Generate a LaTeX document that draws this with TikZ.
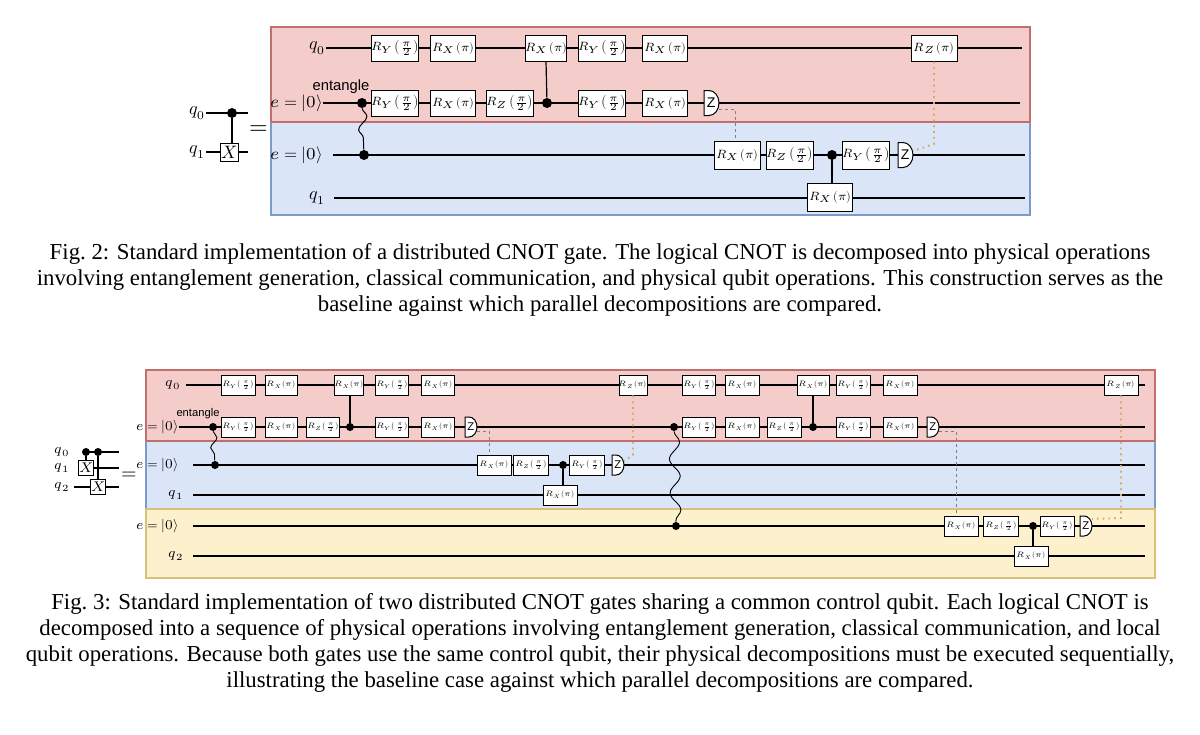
\documentclass[tikz,border=0pt]{standalone}
\usepackage{amsmath}
\usepackage{fontspec}
\setmainfont{Liberation Serif}
\newfontfamily\sansf{Liberation Sans}
\usepackage{unicode-math}
\setmathfont{Latin Modern Math}
\usetikzlibrary{decorations.pathmorphing,calc}
\definecolor{redf}{HTML}{F4CDCB}\definecolor{redd}{HTML}{C0706C}
\definecolor{bluf}{HTML}{DAE6F8}\definecolor{blud}{HTML}{7C9ACB}
\definecolor{yelf}{HTML}{FDF1CD}\definecolor{yeld}{HTML}{D8C07A}
\definecolor{dotc}{HTML}{D6A86A}
\newcommand\RYh{$R_Y\left(\frac{\pi}{2}\right)$}
\newcommand\RZh{$R_Z\left(\frac{\pi}{2}\right)$}
\newcommand\RXp{$R_X\left(\pi\right)$}
\newcommand\RZp{$R_Z\left(\pi\right)$}
% meter: name, left x, y, scale, font size
\newcommand\meas[5]{%
  \begin{scope}[shift={(#2,#3)},scale=#4]
    \draw[fill=white,line width=0.5pt] (0,-6.25pt) -- (0,6.25pt) -- (2.5pt,6.25pt)
      arc[start angle=90,end angle=-90,x radius=5pt,y radius=6.25pt] -- cycle;
    \node[font=\sansf\fontsize{#5}{#5}\selectfont,inner sep=0] at (3.6pt,0) {Z};
    \coordinate (#1) at (7.5pt,0);
  \end{scope}}
\tikzset{
  x=0.5pt,y=-0.5pt,
  wire/.style={line width=0.6pt},
  gA/.style={draw,fill=white,line width=0.5pt,minimum height=13pt,inner sep=0pt,font=\fontsize{6}{6}\selectfont},
  gB/.style={draw,fill=white,line width=0.45pt,minimum height=10pt,inner sep=0pt,font=\fontsize{3.9}{3.9}\selectfont},
  lblA/.style={anchor=east,inner sep=0pt,font=\fontsize{9}{9}\selectfont},
  lblE/.style={anchor=east,inner sep=0pt,font=\fontsize{8.4}{8.4}\selectfont},
  lblB/.style={anchor=east,inner sep=0pt,font=\fontsize{6.8}{6.8}\selectfont},
  cdot/.style={circle,fill=black,inner sep=0pt,minimum size=#1},
  cls/.style={gray,dashed,dash pattern=on 1.5pt off 1.5pt,line width=0.5pt},
  clz/.style={dotc,dotted,line width=0.9pt},
  captxt/.style={align=center,font=\fontsize{11.4}{12.9}\selectfont,inner sep=0pt},
}
\begin{document}
\begin{tikzpicture}
\useasboundingbox (0,0) rectangle (1200,734);
% ================= FIG 2 =================
\fill[redf] (271,27) rectangle (1030,122);
\fill[bluf] (271,122) rectangle (1030,215);
\draw[redd,line width=0.6pt] (271,122) -- (271,27) -- (1030,27) -- (1030,122);
\draw[blud,line width=0.6pt] (271,122) -- (271,215) -- (1030,215) -- (1030,122);
\draw[redd,line width=0.6pt] (271,122) -- (1030,122);
% small circuit
\node[lblA] (s2q0) at (206,113) {$q_0$};
\node[lblA] (s2q1) at (206,152) {$q_1$};
\coordinate (s2q0e) at (248,113);\coordinate (s2q1e) at (248,152);
\draw[wire] (s2q0) -- (s2q0e);
\draw[wire] (s2q1) -- (s2q1e);
\node[draw,fill=white,line width=0.5pt,minimum width=9pt,minimum height=9pt,inner sep=0pt,font=\fontsize{9}{9}\selectfont] (s2x) at (229,152) {$X$};
\node[cdot=5pt] (s2c) at (232,113) {};
\draw[wire] (s2c) -- (s2c |- s2x.north);
\node[font=\fontsize{12}{12}\selectfont] (s2eq) at (259,130) {$=$};
% labels
\node[lblA] (q0L) at (326,48) {$q_0$};
\node[lblE] (e1L) at (323,103) {$e=|0\rangle$};
\node[lblE] (e2L) at (323,155) {$e=|0\rangle$};
\node[lblA] (q1L) at (326,198) {$q_1$};
\node[font=\sansf\fontsize{7.4}{7.4}\selectfont,inner sep=0pt] (ent) at (341,87) {entangle};
\coordinate (q0R) at (1022,48);\coordinate (e1R) at (1020,103);
\coordinate (e2R) at (1025,155);\coordinate (q1R) at (1025,198);
\draw[wire] (q0L.east) -- (q0R);
\draw[wire] (e1L.east) -- (e1R);
\draw[wire] ($(e2L.east)+(10,0)$) -- (e2R);
\draw[wire] ($(q1L.east)+(8,0)$) -- (q1R);
% entangle
\node[cdot=5pt] (ea) at (362,103) {};
\node[cdot=5pt] (eb) at (364,155) {};
\draw[line width=0.5pt,decorate,decoration={snake,segment length=13pt,amplitude=2.2pt}] (ea) -- (eb);
% q0 gates
\node[gA,minimum width=22.5pt] (a1) at (395,48) {\RYh};
\node[gA,minimum width=22.5pt] (a2) at (453,48) {\RXp};
\node[gA,minimum width=19pt] (a3) at (546,48) {\RXp};
\node[gA,minimum width=21.5pt] (a4) at (602,48) {\RYh};
\node[gA,minimum width=22.5pt] (a5) at (665,48) {\RXp};
\node[gA,minimum width=23pt] (a6) at (934,48) {\RZp};
% e gates
\node[gA,minimum width=22.5pt] (b1) at (395,103) {\RYh};
\node[gA,minimum width=22.5pt] (b2) at (453,103) {\RXp};
\node[gA,minimum width=22pt] (b3) at (510,103) {\RZh};
\node[cdot=5pt] (bc) at (547,103) {};
\draw[wire] (bc) -- (a3.south);
\node[gA,minimum width=21.5pt] (b4) at (602,103) {\RYh};
\node[gA,minimum width=22.5pt] (b5) at (665,103) {\RXp};
\meas{m1}{704}{103}{1}{7}
% blue gates
\node[gA,minimum width=23pt,minimum height=14pt] (c1) at (737,155) {\RXp};
\node[gA,minimum width=22.5pt,minimum height=14pt] (c2) at (790,155) {\RZh};
\node[cdot=5pt] (cc) at (832,155) {};
\node[gA,minimum width=23pt,minimum height=14pt] (c3) at (866,155) {\RYh};
\meas{m2}{898}{155}{1}{7}
\node[gA,minimum width=22.5pt,minimum height=14pt] (d1) at (830,197) {\RXp};
\draw[wire] (cc) -- (d1.north -| cc);
% classical
\coordinate (k1) at (735,109);
\draw[cls] ($(m1)+(0,6)$) -- (k1) -- (k1 |- c1.north);
\coordinate (k2) at (934,144);
\draw[clz] (a6.south) -- (k2) -- ($(m2)+(0,-4)$);
% caption
\node[captxt] (cap2) at (600,280) {Fig.\ 2: Standard implementation of a distributed CNOT gate. The logical CNOT is decomposed into physical operations\\
involving entanglement generation, classical communication, and physical qubit operations. This construction serves as the\\
baseline against which parallel decompositions are compared.};
% ================= FIG 3 =================
\fill[redf] (146,370) rectangle (1155,441);
\fill[bluf] (146,441) rectangle (1155,509);
\fill[yelf] (146,509) rectangle (1155,578);
\draw[redd,line width=0.6pt] (146,441) -- (146,370) -- (1155,370) -- (1155,441);
\draw[blud,line width=0.6pt] (146,441) -- (146,509) (1155,441) -- (1155,509);
\draw[yeld,line width=0.6pt] (146,509) -- (146,578) -- (1155,578) -- (1155,509) -- cycle;
\draw[redd,line width=0.6pt] (146,441) -- (1155,441);
% small circuit
\node[lblB] (s3q0) at (70,452) {$q_0$};
\node[lblB] (s3q1) at (70,468) {$q_1$};
\node[lblB] (s3q2) at (70,487) {$q_2$};
\coordinate (s3a) at (83,452);\coordinate (s3b) at (80,468);\coordinate (s3c) at (74,487);
\coordinate (s3ae) at (119,452);\coordinate (s3be) at (119,468);\coordinate (s3ce) at (119,487);
\draw[wire] (s3a) -- (s3ae);\draw[wire] (s3b) -- (s3be);\draw[wire] (s3c) -- (s3ce);
\node[draw,fill=white,line width=0.5pt,minimum size=7.5pt,inner sep=0pt,font=\fontsize{7}{7}\selectfont] (s3x1) at (86,468) {$X$};
\node[draw,fill=white,line width=0.5pt,minimum size=7.5pt,inner sep=0pt,font=\fontsize{7}{7}\selectfont] (s3x2) at (98,487) {$X$};
\node[cdot=4pt] (s3c1) at (86,452) {};
\node[cdot=4pt] (s3c2) at (98,452) {};
\draw[wire] (s3c1) -- (s3x1.north);
\draw[wire] (s3c2) -- (s3x2.north);
\node[font=\fontsize{10}{10}\selectfont] (s3eq) at (129,476) {$=$};
% labels
\node[lblB] (Q0) at (181,385) {$q_0$};
\node[lblB] (E1) at (179,427) {$e=|0\rangle$};
\node[lblB] (E2) at (179,465) {$e=|0\rangle$};
\node[lblB] (Q1) at (184,495) {$q_1$};
\node[lblB] (E3) at (179,526) {$e=|0\rangle$};
\node[lblB] (Q2) at (184,556) {$q_2$};
\node[font=\sansf\fontsize{5.6}{5.6}\selectfont,inner sep=0pt] (ent3) at (198,414) {entangle};
\coordinate (Q0R) at (1145,385);\coordinate (E1R) at (1145,427);\coordinate (E2R) at (1145,465);
\coordinate (Q1R) at (1145,495);\coordinate (E3R) at (1145,526);\coordinate (Q2R) at (1145,556);
\draw[wire] ($(Q0.east)+(5,0)$) -- (Q0R);
\draw[wire] (E1.east) -- (E1R);
\draw[wire] ($(E2.east)+(14,0)$) -- (E2R);
\draw[wire] ($(Q1.east)+(9,0)$) -- (Q1R);
\draw[wire] ($(E3.east)+(14,0)$) -- (E3R);
\draw[wire] ($(Q2.east)+(9,0)$) -- (Q2R);
% entangle 1
\node[cdot=4pt] (f1) at (213,427) {};
\node[cdot=4pt] (f2) at (215,465) {};
\draw[line width=0.45pt,decorate,decoration={snake,segment length=10pt,amplitude=1.7pt}] (f1) -- (f2);
% round 1 q0
\node[gB,minimum width=17pt] (A1) at (238,385) {\RYh};
\node[gB,minimum width=16pt] (A2) at (281,385) {\RXp};
\node[gB,minimum width=14pt] (A3) at (349,385) {\RXp};
\node[gB,minimum width=16.5pt] (A4) at (392,385) {\RYh};
\node[gB,minimum width=16.5pt] (A5) at (438,385) {\RXp};
\node[gB,minimum width=14pt] (A6) at (633,385) {\RZp};
% round 1 e
\node[gB,minimum width=17pt] (B1) at (238,427) {\RYh};
\node[gB,minimum width=16pt] (B2) at (281,427) {\RXp};
\node[gB,minimum width=16.5pt] (B3) at (323,427) {\RZh};
\node[cdot=4pt] (Bc) at (350,427) {};
\draw[wire] (Bc) -- (A3.south -| Bc);
\node[gB,minimum width=16.5pt] (B4) at (392,427) {\RYh};
\node[gB,minimum width=16.5pt] (B5) at (438,427) {\RXp};
\meas{M1}{465}{427}{0.8}{5.6}
% round 1 blue
\node[gB,minimum width=17pt] (C1) at (494,465) {\RXp};
\node[gB,minimum width=17.5pt] (C2) at (531,465) {\RZh};
\node[cdot=4pt] (Cc) at (563,465) {};
\node[gB,minimum width=17.5pt] (C3) at (587,465) {\RYh};
\meas{M2}{612}{465}{0.8}{5.6}
\node[gB,minimum width=17pt] (D1) at (560,495) {\RXp};
\draw[wire] (Cc) -- (D1.north -| Cc);
\coordinate (K1) at (489,431);
\draw[cls] ($(M1)+(0,4)$) -- (K1) -- (K1 |- C1.north);
\coordinate (K2) at (633,455);
\draw[clz] (A6.south) -- (K2) -- ($(M2)+(0,-4)$);
% entangle 2
\node[cdot=4pt] (f3) at (674,427) {};
\node[cdot=4pt] (f4) at (676,526) {};
\draw[line width=0.45pt,decorate,decoration={snake,segment length=17pt,amplitude=2.6pt}] (f3) -- (f4);
% round 2 q0
\node[gB,minimum width=16.5pt] (A7) at (699,385) {\RYh};
\node[gB,minimum width=17pt] (A8) at (742,385) {\RXp};
\node[gB,minimum width=16pt] (A9) at (813,385) {\RXp};
\node[gB,minimum width=17pt] (A10) at (853,385) {\RYh};
\node[gB,minimum width=17pt] (A11) at (900,385) {\RXp};
\node[gB,minimum width=17pt] (A12) at (1121,385) {\RZp};
% round 2 e
\node[gB,minimum width=16.5pt] (B6) at (699,427) {\RYh};
\node[gB,minimum width=17pt] (B7) at (742,427) {\RXp};
\node[gB,minimum width=17pt] (B8) at (784,427) {\RZh};
\node[cdot=4pt] (Bc2) at (813,427) {};
\draw[wire] (Bc2) -- (A9.south -| Bc2);
\node[gB,minimum width=17pt] (B9) at (853,427) {\RYh};
\node[gB,minimum width=17pt] (B10) at (900,427) {\RXp};
\meas{M3}{927}{427}{0.8}{5.6}
% round 2 yellow
\node[gB,minimum width=17pt] (G1) at (961,526) {\RXp};
\node[gB,minimum width=17.5pt] (G2) at (1001,526) {\RZh};
\node[cdot=4pt] (Gc) at (1033,526) {};
\node[gB,minimum width=17pt] (G3) at (1057,526) {\RYh};
\meas{M4}{1080}{526}{0.8}{5.6}
\node[gB,minimum width=17pt] (H1) at (1031,556) {\RXp};
\draw[wire] (Gc) -- (H1.north -| Gc);
\coordinate (K3) at (956,431);
\draw[cls] ($(M3)+(0,4)$) -- (K3) -- (K3 |- G1.north);
\coordinate (K4) at (1121,518);
\draw[clz] (A12.south) -- (K4) -- ($(M4)+(0,-7)$);
% caption
\node[captxt] (cap3) at (600,643) {Fig.\ 3: Standard implementation of two distributed CNOT gates sharing a common control qubit. Each logical CNOT is\\
decomposed into a sequence of physical operations involving entanglement generation, classical communication, and local\\
qubit operations. Because both gates use the same control qubit, their physical decompositions must be executed sequentially,\\
illustrating the baseline case against which parallel decompositions are compared.};
\end{tikzpicture}
\end{document}
